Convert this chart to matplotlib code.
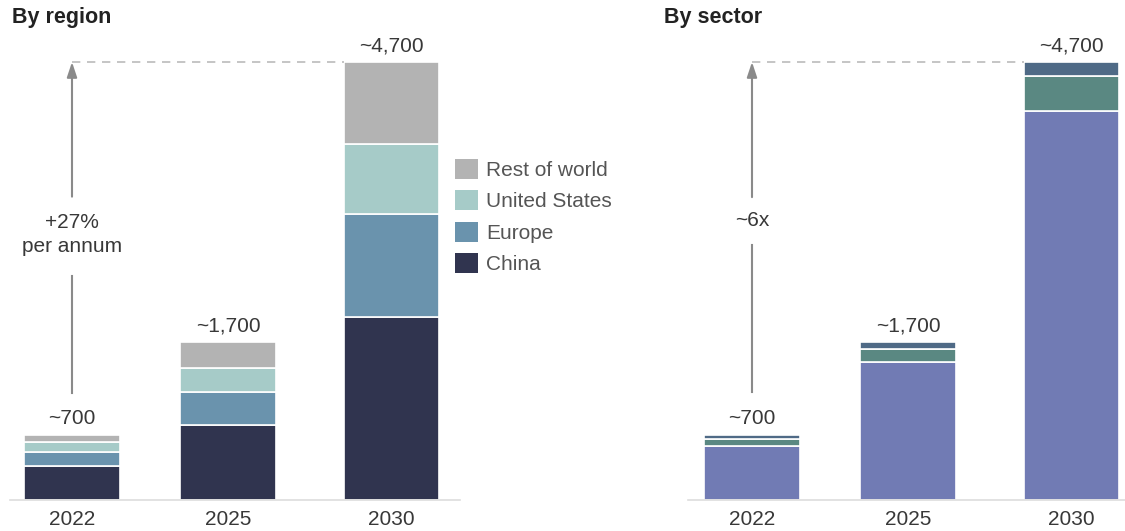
import matplotlib.pyplot as plt
from matplotlib.patches import Patch

plt.rcParams['font.family'] = ['Liberation Sans', 'DejaVu Sans']

years = ['2022', '2025', '2030']
totals = [700, 1700, 4700]
total_labels = ['~700', '~1,700', '~4,700']

# by region (bottom to top)
region_names = ['China', 'Europe', 'United States', 'Rest of world']
china = [370, 800, 1960]
europe = [145, 360, 1110]
united_states = [110, 260, 750]
rest_of_world = [75, 280, 880]
region_colors = ['#30344f', '#6a93ad', '#a6cbc8', '#b3b3b3']

# by sector (bottom to top)
sector_names = ['Mobility', 'Stationary storage', 'Consumer electronics']
mobility = [580, 1480, 4170]
stationary = [70, 140, 380]
consumer = [50, 80, 150]
sector_colors = ['#717bb4', '#5a8882', '#4f6a86']

text_col = '#383838'
grey = '#8a8a8a'
pos = [0, 1, 2.05]
width = 0.61
W, H = 1125, 531

fig = plt.figure(figsize=(W / 100, H / 100), dpi=100)


def stacked(ax, series, colors):
    bottom = [0] * len(pos)
    for vals, c in zip(series, colors):
        ax.bar(pos, vals, width, bottom=bottom, color=c, edgecolor='white', linewidth=1.2)
        bottom = [b + v for b, v in zip(bottom, vals)]
    for x, t, lab in zip(pos, totals, total_labels):
        ax.text(x, t + 70, lab, ha='center', va='bottom', fontsize=15, color=text_col)
    ax.set_ylim(0, 4700 * 470 / 438)
    ax.set_xticks(pos)
    ax.set_xticklabels(years, fontsize=15, color=text_col)
    ax.tick_params(length=0, pad=7)
    ax.set_yticks([])
    for s in ['top', 'left', 'right']:
        ax.spines[s].set_visible(False)
    ax.spines['bottom'].set_color('#dddddd')
    ax.spines['bottom'].set_linewidth(1.2)


def growth_arrow(ax, y0, gap_lo, gap_hi, label, label_y):
    top = totals[-1]
    ax.plot([pos[0], pos[0]], [y0, gap_lo], color=grey, lw=1.5)
    ax.annotate('', xy=(pos[0], top), xytext=(pos[0], gap_hi),
                arrowprops=dict(arrowstyle='-|>,head_length=0.9,head_width=0.3',
                                color=grey, lw=1.5, shrinkA=0, shrinkB=0))
    ax.plot([pos[0], pos[2] - width / 2], [top, top], color='#bbbbbb', lw=1.2,
            ls=(0, (5, 4)))
    ax.text(pos[0], label_y, label, ha='center', va='center', fontsize=15,
            color=text_col, linespacing=1.35)


# left panel
ax1 = fig.add_axes([10 / W, 31 / H, 450 / W, 470 / H])
stacked(ax1, [china, europe, united_states, rest_of_world], region_colors)
ax1.set_xlim((10 - 72) / 156, (460 - 72) / 156)
growth_arrow(ax1, 1150, 2400, 3255, '+27%\nper annum', 2850)
handles = [Patch(facecolor=c, edgecolor='none') for c in region_colors][::-1]
ax1.legend(handles, region_names[::-1], loc='upper left', bbox_to_anchor=(436 / W, 1 - 140 / H),
           bbox_transform=fig.transFigure, frameon=False, fontsize=15,
           handlelength=1.1, handleheight=1.1, handletextpad=0.4, labelspacing=0.5,
           labelcolor='#555555')

# right panel
ax2 = fig.add_axes([688 / W, 31 / H, 437 / W, 470 / H])
stacked(ax2, [mobility, stationary, consumer], sector_colors)
ax2.set_xlim((688 - 752) / 156, (1125 - 752) / 156)
growth_arrow(ax2, 1160, 2736, 3250, '~6x', 3004)

fig.text(12 / W, 1 - 18 / H, 'By region', fontsize=15.5, fontweight='bold', color='#222222',
         va='center', ha='left')
fig.text(664 / W, 1 - 18 / H, 'By sector', fontsize=15.5, fontweight='bold', color='#222222',
         va='center', ha='left')

fig.savefig('out.png', dpi=100)
